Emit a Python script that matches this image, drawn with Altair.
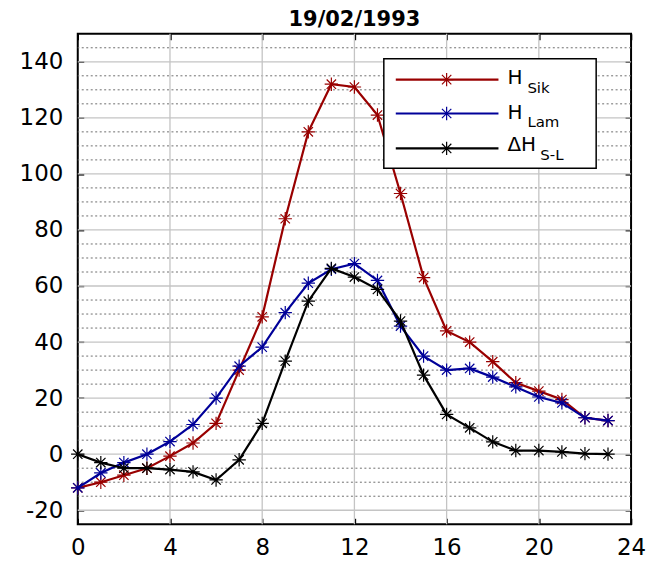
import altair as alt
import pandas as pd

hours = list(range(24))
h_sik = [-12, -10, -7.5, -5, -0.7, 4, 11, 30, 49, 84, 115, 132, 131, 121, 93, 63, 44, 40, 33, 25.5, 22.5, 19.5, 13, 12]
h_lam = [-12, -6.7, -3, 0, 4.5, 10.6, 20, 31.4, 38.2, 50.5, 61, 66, 68, 62, 45.7, 35, 30, 30.6, 27.5, 24, 20.4, 18.3, 13, 12]
d_h = [0, -3, -5, -5, -5.5, -6.3, -9.2, -2, 11, 33.2, 54.6, 66.3, 63.2, 58.8, 47.5, 28.2, 14.2, 9.4, 4.4, 1.3, 1.3, 0.8, 0.2, 0]

series_main = ["H", "H", "ΔH"]
series_sub = ["Sik", "Lam", "S-L"]
series_colors = ["#990000", "#000099", "#000000"]
series_values = [h_sik, h_lam, d_h]

x_ticks = [0, 4, 8, 12, 16, 20, 24]
y_ticks = [-20, 0, 20, 40, 60, 80, 100, 120, 140]
y_minor = [-15, -10, -5, 5, 10, 15, 25, 30, 35, 45, 50, 55, 65, 70, 75, 85, 90, 95,
           105, 110, 115, 125, 130, 135, 145]
x_grid = [4, 8, 12, 16, 20]

FONT = "DejaVu Sans"
W, H = 555, 492
xscale = alt.Scale(domain=[0, 24], nice=False, zero=False)
yscale = alt.Scale(domain=[-25, 150], nice=False, zero=False)

star = "M-1,0L1,0M0,-1L0,1M-0.7,-0.7L0.7,0.7M-0.7,0.7L0.7,-0.7"

common = dict(tickSize=6, offset=-6, domain=False, grid=False, tickColor="black",
              tickWidth=1.5, title=None, labelFlush=False)
ax_bottom = alt.Axis(orient="bottom", values=x_ticks, labelFont=FONT, labelFontSize=23,
                     labelColor="black", labelPadding=12, labelExpr="'' + datum.value", **common)
ax_left = alt.Axis(orient="left", values=y_ticks, labelFont=FONT, labelFontSize=23,
                   labelColor="black", labelPadding=15, labelExpr="'' + datum.value", **common)
ax_top = alt.Axis(orient="top", values=x_ticks, labels=False, **common)
ax_right = alt.Axis(orient="right", values=y_ticks, labels=False, **common)

layers = []
layers.append(alt.Chart(pd.DataFrame({"v": y_minor})).mark_rule(
    color="#6e6e6e", strokeDash=[2, 2.5], strokeWidth=1).encode(
    y=alt.Y("v:Q", scale=yscale, axis=None)))
layers.append(alt.Chart(pd.DataFrame({"v": y_ticks})).mark_rule(
    color="#c4c4c4", strokeWidth=1.3).encode(
    y=alt.Y("v:Q", scale=yscale, axis=None)))
layers.append(alt.Chart(pd.DataFrame({"v": x_grid})).mark_rule(
    color="#c4c4c4", strokeWidth=1.3).encode(
    x=alt.X("v:Q", scale=xscale, axis=None)))

for i, (vals, col) in enumerate(zip(series_values, series_colors)):
    df = pd.DataFrame({"hour": hours, "val": vals})
    base = alt.Chart(df)
    xa = ax_bottom if i == 0 else None
    ya = ax_left if i == 0 else None
    xa2 = ax_top if i == 0 else None
    ya2 = ax_right if i == 0 else None
    line = base.mark_line(color=col, strokeWidth=2.2).encode(
        x=alt.X("hour:Q", scale=xscale, axis=xa),
        y=alt.Y("val:Q", scale=yscale, axis=ya))
    pts = base.mark_point(shape=star, filled=False, color=col, strokeWidth=1.2, size=180,
                          opacity=1).encode(
        x=alt.X("hour:Q", scale=xscale, axis=xa2),
        y=alt.Y("val:Q", scale=yscale, axis=ya2))
    layers += [line, pts]

# legend box
one = pd.DataFrame({"k": [0]})
box_x0, box_x1, box_y0, box_y1 = 307, 520, 25, 135
layers.append(alt.Chart(one).mark_rect(fill="white", stroke="black", strokeWidth=1.5).encode(
    x=alt.value(box_x0), x2=alt.value(box_x1), y=alt.value(box_y0), y2=alt.value(box_y1)))
row_line_y = [46, 80, 115]
row_text_y = [50, 85, 118]
sub_x = [451, 451, 464]
for j in range(3):
    ly = row_line_y[j]
    layers.append(alt.Chart(one).mark_rule(color=series_colors[j], strokeWidth=2.2).encode(
        x=alt.value(319), x2=alt.value(422), y=alt.value(ly)))
    layers.append(alt.Chart(one).mark_point(shape=star, filled=False, color=series_colors[j],
                                            strokeWidth=1.2, size=180, opacity=1).encode(
        x=alt.value(370), y=alt.value(ly)))
    layers.append(alt.Chart(one).mark_text(text=series_main[j], font=FONT, fontSize=20,
                                           align="left", baseline="alphabetic", color="black").encode(
        x=alt.value(431), y=alt.value(row_text_y[j])))
    layers.append(alt.Chart(one).mark_text(text=series_sub[j], font=FONT, fontSize=15,
                                           align="left", baseline="alphabetic", color="black").encode(
        x=alt.value(sub_x[j]), y=alt.value(row_text_y[j] + 9)))

chart = alt.layer(*layers).resolve_axis(x="independent", y="independent").properties(
    width=W, height=H,
    padding={"left": 19, "top": 8, "right": 5, "bottom": 5},
    title=alt.TitleParams("19/02/1993", font=FONT, fontSize=21, fontWeight="bold",
                          anchor="middle", color="black", offset=3),
).configure_view(stroke="black", strokeWidth=2)

chart.save("out.html", embed_options={"renderer": "svg", "actions": False})
